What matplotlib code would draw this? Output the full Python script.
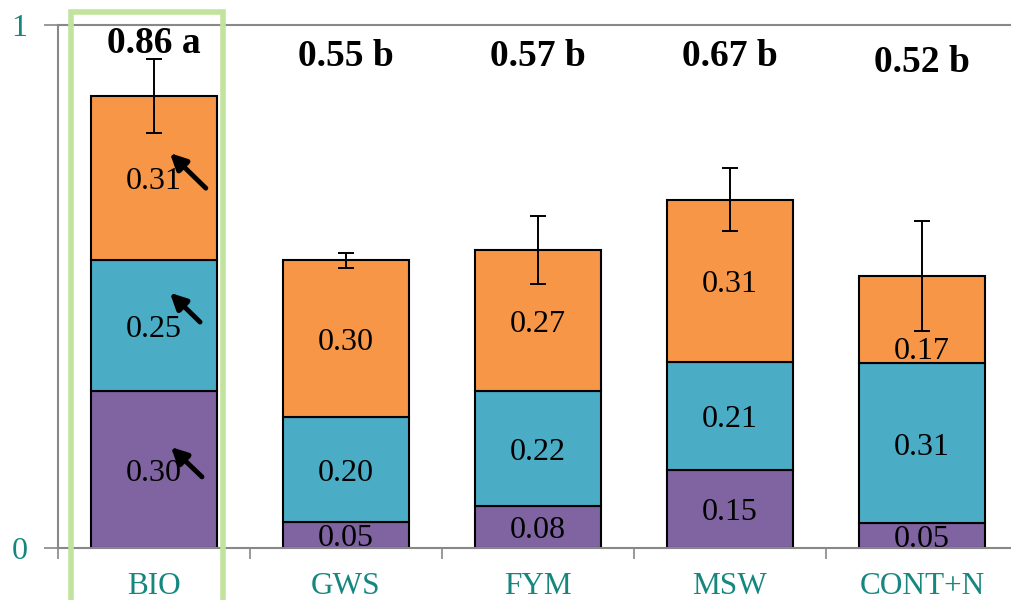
import matplotlib.pyplot as plt
import matplotlib.patheffects as pe
from matplotlib.patches import Rectangle
import numpy as np

# data
categories = ['BIO', 'GWS', 'FYM', 'MSW', 'CONT+N']
purple = [0.30, 0.05, 0.08, 0.15, 0.047]
blue = [0.25, 0.20, 0.22, 0.206, 0.306]
orange = [0.314, 0.30, 0.27, 0.31, 0.167]
errors = [0.071, 0.014, 0.065, 0.060, 0.106]
totals_text = ['0.86 a', '0.55 b', '0.57 b', '0.67 b', '0.52 b']

# layout
total_label_y = [0.946, 0.922, 0.922, 0.922, 0.911]
teal = '#16877f'
colors = ['#8064A2', '#4BACC6', '#F79646']

plt.rcParams['font.family'] = ['Liberation Serif', 'DejaVu Serif']

fig = plt.figure(figsize=(10.12, 6.0), dpi=100)
ax = fig.add_axes([58 / 1012, 52 / 600, 960 / 1012, 523 / 600])

x = np.arange(len(categories))
width = 0.66
bottom = np.zeros(len(categories))
for vals, col in zip([purple, blue, orange], colors):
    vals = np.array(vals)
    ax.bar(x, vals, width, bottom=bottom, color=col, edgecolor='black', linewidth=1.5, zorder=2)
    for i, v in enumerate(vals):
        yc = bottom[i] + v / 2 - 0.007
        if col == colors[2] and i == 4:
            yc -= 0.053
        ax.text(x[i], yc, '%.2f' % v, ha='center', va='center', fontsize=23, color='black', zorder=4)
    bottom += vals

ax.errorbar(x, bottom, yerr=errors, fmt='none', ecolor='black', elinewidth=1.4,
            capsize=5.5, capthick=1.4, zorder=3)

for i, t in enumerate(totals_text):
    ax.text(x[i], total_label_y[i], t, ha='center', va='baseline', fontsize=27,
            fontweight='bold', color='black')

# arrows in the BIO bar
heads = [(0.083, 0.755), (0.083, 0.488), (0.088, 0.193)]
tails = [(0.27, 0.688), (0.24, 0.432), (0.25, 0.136)]
for h, t in zip(heads, tails):
    ax.annotate('', xy=h, xytext=t,
                arrowprops=dict(arrowstyle='-|>', lw=3.5, color='black', mutation_scale=24,
                                shrinkA=0, shrinkB=0,
                                path_effects=[pe.withSimplePatchShadow(offset=(1.5, -1.5), alpha=0.4)]),
                zorder=5)

ax.set_xlim(-0.5, len(categories) - 0.5)
ax.set_ylim(0, 1)
ax.set_yticks([0, 1])
ax.set_yticklabels(['0', '1'])
ax.set_xticks(np.arange(len(categories) + 1) - 0.5)
ax.set_xticklabels([])
ax.set_xticks(x, minor=True)
ax.set_xticklabels(categories, minor=True)
ax.tick_params(axis='x', which='major', length=8, width=1.2, color='#888888', direction='out')
ax.tick_params(axis='x', which='minor', length=0, pad=17, labelsize=22.5, labelcolor=teal)
ax.tick_params(axis='y', length=10, width=1.2, color='#888888', pad=12, labelsize=23, labelcolor=teal)
ax.axhline(1, color='#888888', lw=1.5, clip_on=False, zorder=1)

for s in ['top', 'right']:
    ax.spines[s].set_visible(False)
for s in ['left', 'bottom']:
    ax.spines[s].set_color('#888888')
    ax.spines[s].set_linewidth(1.5)

# green highlight box around BIO
fig.patches.append(Rectangle((71 / 1012, -0.05), 152 / 1012, 1.05 - 12 / 600, fill=False,
                             edgecolor='#c2e39e', linewidth=4, transform=fig.transFigure,
                             zorder=10))

fig.savefig('out.png', dpi=100)
